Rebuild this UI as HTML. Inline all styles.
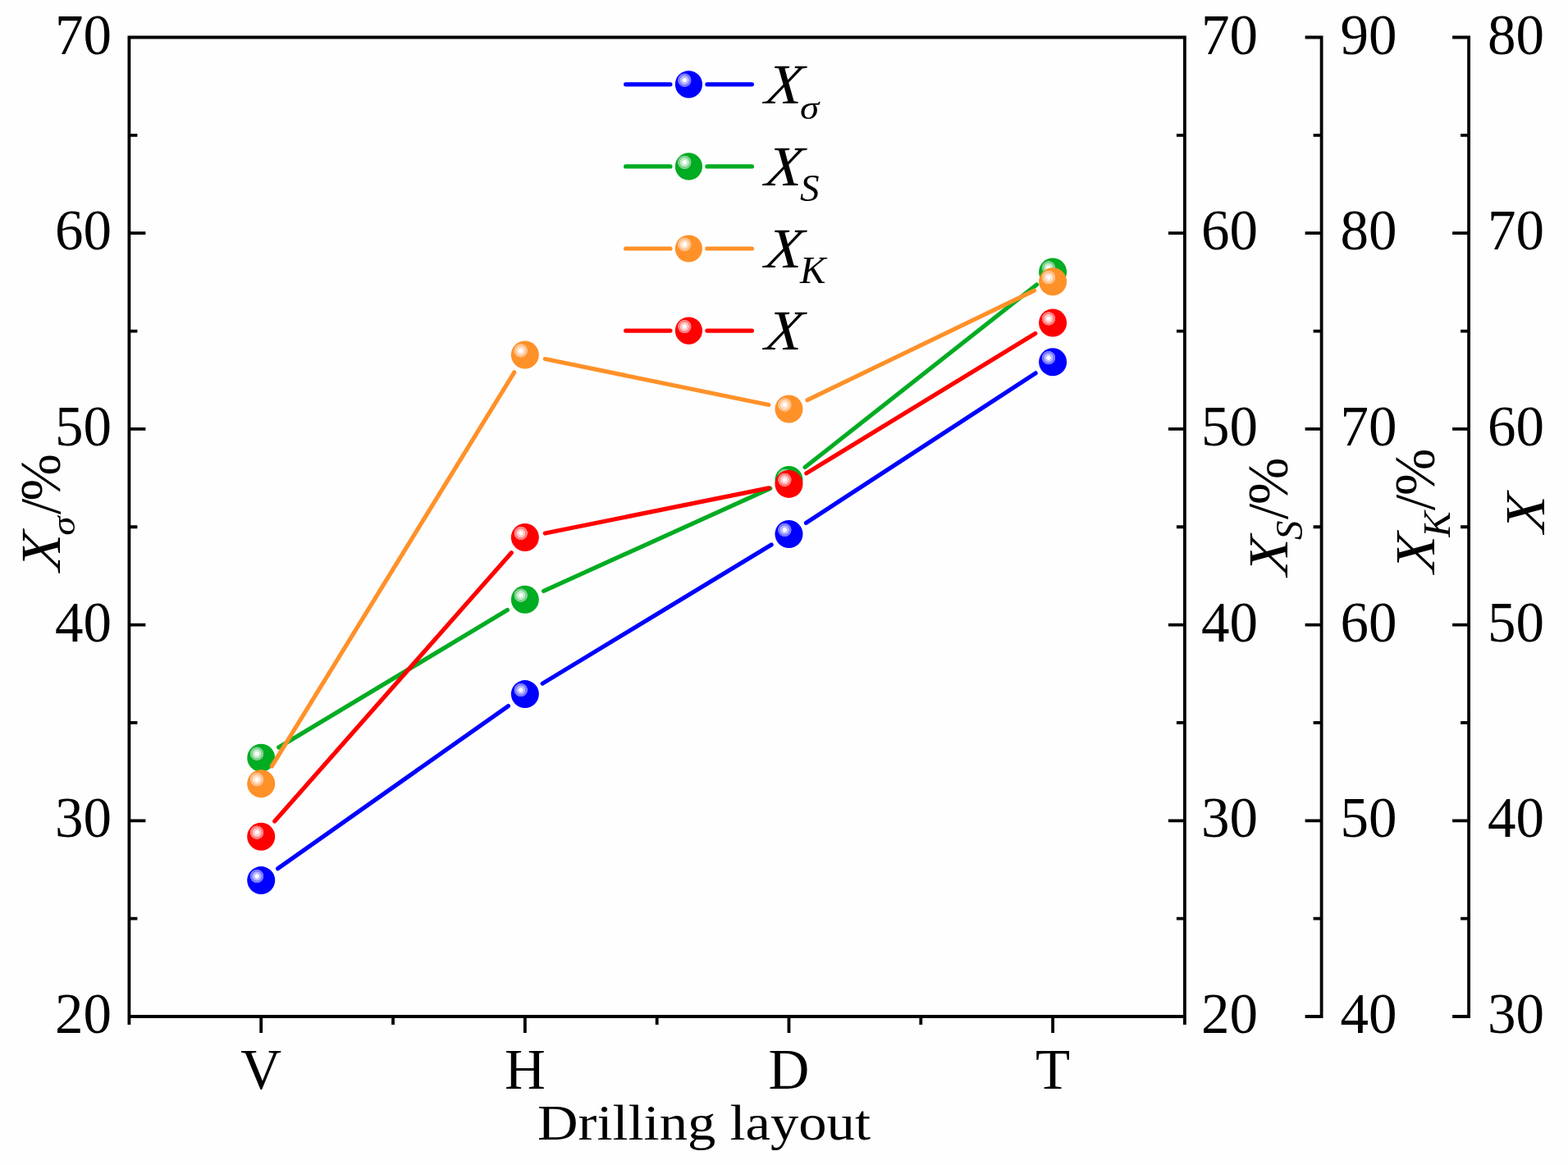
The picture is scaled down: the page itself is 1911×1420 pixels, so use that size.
<!DOCTYPE html>
<html lang="en"><head><meta charset="utf-8"><title>Drilling layout chart</title>
<style>html,body{margin:0;padding:0;background:#fefefe;}svg{display:block;}text{font-family:"Liberation Serif","Times New Roman",serif;fill:#000;}</style>
</head><body>
<svg width="1911" height="1420" viewBox="0 0 1911 1420">
<defs>
<radialGradient id="hl_blue" cx="0.5" cy="0.5" r="0.5"><stop offset="0" stop-color="#ffffff"/><stop offset="0.28" stop-color="#ffffff"/><stop offset="0.34" stop-color="#b8b8ff"/><stop offset="0.60" stop-color="#b8b8ff"/><stop offset="0.66" stop-color="#7a7aff"/><stop offset="0.92" stop-color="#7a7aff"/><stop offset="1" stop-color="#0000FF"/></radialGradient>
<radialGradient id="hl_green" cx="0.5" cy="0.5" r="0.5"><stop offset="0" stop-color="#ffffff"/><stop offset="0.28" stop-color="#ffffff"/><stop offset="0.34" stop-color="#c4ecc9"/><stop offset="0.60" stop-color="#c4ecc9"/><stop offset="0.66" stop-color="#80d090"/><stop offset="0.92" stop-color="#80d090"/><stop offset="1" stop-color="#00AC22"/></radialGradient>
<radialGradient id="hl_orange" cx="0.5" cy="0.5" r="0.5"><stop offset="0" stop-color="#ffffff"/><stop offset="0.28" stop-color="#ffffff"/><stop offset="0.34" stop-color="#ffe0c6"/><stop offset="0.60" stop-color="#ffe0c6"/><stop offset="0.66" stop-color="#ffc08c"/><stop offset="0.92" stop-color="#ffc08c"/><stop offset="1" stop-color="#FF9129"/></radialGradient>
<radialGradient id="hl_red" cx="0.5" cy="0.5" r="0.5"><stop offset="0" stop-color="#ffffff"/><stop offset="0.28" stop-color="#ffffff"/><stop offset="0.34" stop-color="#ffc4c4"/><stop offset="0.60" stop-color="#ffc4c4"/><stop offset="0.66" stop-color="#ff8080"/><stop offset="0.92" stop-color="#ff8080"/><stop offset="1" stop-color="#FF0000"/></radialGradient>
</defs>
<rect x="0" y="0" width="1911" height="1420" fill="#fefefe"/>
<path d="M155.50 45.50H1445.80M155.50 1239.00H1445.80M157.40 43.60V1249.00M1443.90 43.60V1249.00M157.40 1239.00h20M1443.90 1239.00h-20M157.40 1119.65h10M1443.90 1119.65h-10M157.40 1000.30h20M1443.90 1000.30h-20M157.40 880.95h10M1443.90 880.95h-10M157.40 761.60h20M1443.90 761.60h-20M157.40 642.25h10M1443.90 642.25h-10M157.40 522.90h20M1443.90 522.90h-20M157.40 403.55h10M1443.90 403.55h-10M157.40 284.20h20M1443.90 284.20h-20M157.40 164.85h10M1443.90 164.85h-10M157.40 45.50h20M1443.90 45.50h-20M318.21 1239.00v20M639.84 1239.00v20M961.46 1239.00v20M1283.09 1239.00v20M479.02 1239.00v10M800.65 1239.00v10M1122.28 1239.00v10M1610.60 43.60V1240.90M1612.50 45.50h-21.9M1612.50 164.85h-11.9M1612.50 284.20h-21.9M1612.50 403.55h-11.9M1612.50 522.90h-21.9M1612.50 642.25h-11.9M1612.50 761.60h-21.9M1612.50 880.95h-11.9M1612.50 1000.30h-21.9M1612.50 1119.65h-11.9M1612.50 1239.00h-21.9M1790.10 43.60V1240.90M1792.00 45.50h-21.9M1792.00 164.85h-11.9M1792.00 284.20h-21.9M1792.00 403.55h-11.9M1792.00 522.90h-21.9M1792.00 642.25h-11.9M1792.00 761.60h-21.9M1792.00 880.95h-11.9M1792.00 1000.30h-21.9M1792.00 1119.65h-11.9M1792.00 1239.00h-21.9" stroke="#000" stroke-width="3.8" fill="none" stroke-linecap="butt"/>
<text x="136.0" y="1259.0" font-size="69" text-anchor="end">20</text>
<text x="1464.0" y="1259.0" font-size="69" text-anchor="start">20</text>
<text x="136.0" y="1020.3" font-size="69" text-anchor="end">30</text>
<text x="1464.0" y="1020.3" font-size="69" text-anchor="start">30</text>
<text x="136.0" y="781.6" font-size="69" text-anchor="end">40</text>
<text x="1464.0" y="781.6" font-size="69" text-anchor="start">40</text>
<text x="136.0" y="542.9" font-size="69" text-anchor="end">50</text>
<text x="1464.0" y="542.9" font-size="69" text-anchor="start">50</text>
<text x="136.0" y="304.2" font-size="69" text-anchor="end">60</text>
<text x="1464.0" y="304.2" font-size="69" text-anchor="start">60</text>
<text x="136.0" y="65.5" font-size="69" text-anchor="end">70</text>
<text x="1464.0" y="65.5" font-size="69" text-anchor="start">70</text>
<text x="1633.6" y="1259.0" font-size="69" text-anchor="start">40</text>
<text x="1633.6" y="1020.3" font-size="69" text-anchor="start">50</text>
<text x="1633.6" y="781.6" font-size="69" text-anchor="start">60</text>
<text x="1633.6" y="542.9" font-size="69" text-anchor="start">70</text>
<text x="1633.6" y="304.2" font-size="69" text-anchor="start">80</text>
<text x="1633.6" y="65.5" font-size="69" text-anchor="start">90</text>
<text x="1813.1" y="1259.0" font-size="69" text-anchor="start">30</text>
<text x="1813.1" y="1020.3" font-size="69" text-anchor="start">40</text>
<text x="1813.1" y="781.6" font-size="69" text-anchor="start">50</text>
<text x="1813.1" y="542.9" font-size="69" text-anchor="start">60</text>
<text x="1813.1" y="304.2" font-size="69" text-anchor="start">70</text>
<text x="1813.1" y="65.5" font-size="69" text-anchor="start">80</text>
<text x="318.2" y="1327.0" font-size="69" text-anchor="middle">V</text>
<text x="639.8" y="1327.0" font-size="69" text-anchor="middle">H</text>
<text x="961.5" y="1327.0" font-size="69" text-anchor="middle">D</text>
<text x="1283.1" y="1327.0" font-size="69" text-anchor="middle">T</text>
<text x="655" y="1388.5" font-size="62" textLength="406" lengthAdjust="spacingAndGlyphs">Drilling layout</text>
<g transform="translate(72.7,696.5) rotate(-90)"><text transform="skewX(-6) scale(1.08,1)" font-size="69" font-style="italic">X</text><text transform="translate(43.8,18.5) scale(1,0.84)" font-size="47" font-style="italic">&#963;</text><text x="69.5" y="0" font-size="69">/</text><text x="86.0" y="0" font-size="69">%</text></g>
<g transform="translate(1568.9,701.9) rotate(-90)"><text transform="skewX(-6) scale(1.08,1)" font-size="69" font-style="italic">X</text><text x="43.8" y="18.5" font-size="47" font-style="italic">S</text><text x="69.0" y="0" font-size="69">/</text><text x="87.0" y="0" font-size="69">%</text></g>
<g transform="translate(1748.2,698.6) rotate(-90)"><text transform="skewX(-6) scale(1.08,1)" font-size="69" font-style="italic">X</text><text x="43.8" y="18.5" font-size="47" font-style="italic">K</text><text x="76.5" y="0" font-size="69">/</text><text x="94.6" y="0" font-size="69">%</text></g>
<g transform="translate(1881.8,649.8) rotate(-90)"><text transform="skewX(-6) scale(1.08,1)" font-size="69" font-style="italic">X</text></g>
<path d="M338.64 1058.68L619.41 860.52M661.21 833.13L940.09 663.97M982.40 637.34L1262.15 454.86" stroke="#0000FF" stroke-width="5.2" stroke-linecap="round" fill="none"/>
<circle cx="318.21" cy="1073.10" r="17.0" fill="#0000FF"/><circle cx="313.11" cy="1068.00" r="8.6" fill="url(#hl_blue)"/>
<circle cx="639.84" cy="846.10" r="17.0" fill="#0000FF"/><circle cx="634.74" cy="841.00" r="8.6" fill="url(#hl_blue)"/>
<circle cx="961.46" cy="651.00" r="17.0" fill="#0000FF"/><circle cx="956.36" cy="645.90" r="8.6" fill="url(#hl_blue)"/>
<circle cx="1283.09" cy="441.20" r="17.0" fill="#0000FF"/><circle cx="1277.99" cy="436.10" r="8.6" fill="url(#hl_blue)"/>
<path d="M339.65 910.93L618.40 743.57M662.61 720.38L938.69 595.32M981.10 569.52L1263.45 346.98" stroke="#00AC22" stroke-width="5.2" stroke-linecap="round" fill="none"/>
<circle cx="318.21" cy="923.80" r="17.0" fill="#00AC22"/><circle cx="313.11" cy="918.70" r="8.6" fill="url(#hl_green)"/>
<circle cx="639.84" cy="730.70" r="17.0" fill="#00AC22"/><circle cx="634.74" cy="725.60" r="8.6" fill="url(#hl_green)"/>
<circle cx="961.46" cy="585.00" r="17.0" fill="#00AC22"/><circle cx="956.36" cy="579.90" r="8.6" fill="url(#hl_green)"/>
<circle cx="1283.09" cy="331.50" r="17.0" fill="#00AC22"/><circle cx="1277.99" cy="326.40" r="8.6" fill="url(#hl_green)"/>
<path d="M331.31 933.91L626.74 453.79M664.33 437.53L936.97 493.47M983.98 487.63L1260.57 354.07" stroke="#FF9129" stroke-width="5.2" stroke-linecap="round" fill="none"/>
<circle cx="318.21" cy="955.20" r="17.0" fill="#FF9129"/><circle cx="313.11" cy="950.10" r="8.6" fill="url(#hl_orange)"/>
<circle cx="639.84" cy="432.50" r="17.0" fill="#FF9129"/><circle cx="634.74" cy="427.40" r="8.6" fill="url(#hl_orange)"/>
<circle cx="961.46" cy="498.50" r="17.0" fill="#FF9129"/><circle cx="956.36" cy="493.40" r="8.6" fill="url(#hl_orange)"/>
<circle cx="1283.09" cy="343.20" r="17.0" fill="#FF9129"/><circle cx="1277.99" cy="338.10" r="8.6" fill="url(#hl_orange)"/>
<path d="M334.75 1001.05L623.30 673.75M664.34 650.04L936.96 594.86M982.80 576.87L1261.75 406.53" stroke="#FF0000" stroke-width="5.2" stroke-linecap="round" fill="none"/>
<circle cx="318.21" cy="1019.80" r="17.0" fill="#FF0000"/><circle cx="313.11" cy="1014.70" r="8.6" fill="url(#hl_red)"/>
<circle cx="639.84" cy="655.00" r="17.0" fill="#FF0000"/><circle cx="634.74" cy="649.90" r="8.6" fill="url(#hl_red)"/>
<circle cx="961.46" cy="589.90" r="17.0" fill="#FF0000"/><circle cx="956.36" cy="584.80" r="8.6" fill="url(#hl_red)"/>
<circle cx="1283.09" cy="393.50" r="17.0" fill="#FF0000"/><circle cx="1277.99" cy="388.40" r="8.6" fill="url(#hl_red)"/>
<path d="M762.60 102.80H816.90M861.90 102.80H916.40" stroke="#0000FF" stroke-width="5.2" stroke-linecap="round" fill="none"/>
<circle cx="839.40" cy="102.80" r="16.6" fill="#0000FF"/><circle cx="834.30" cy="97.70" r="8.6" fill="url(#hl_blue)"/>
<g transform="translate(931.2,126.1)"><text transform="skewX(-6) scale(1.08,1)" font-size="69" font-style="italic">X</text><text transform="translate(43.8,18.5) scale(1,0.84)" font-size="47" font-style="italic">&#963;</text></g>
<path d="M762.60 202.90H816.90M861.90 202.90H916.40" stroke="#00AC22" stroke-width="5.2" stroke-linecap="round" fill="none"/>
<circle cx="839.40" cy="202.90" r="16.6" fill="#00AC22"/><circle cx="834.30" cy="197.80" r="8.6" fill="url(#hl_green)"/>
<g transform="translate(931.2,226.1)"><text transform="skewX(-6) scale(1.08,1)" font-size="69" font-style="italic">X</text><text x="43.8" y="18.5" font-size="47" font-style="italic">S</text></g>
<path d="M762.60 303.00H816.90M861.90 303.00H916.40" stroke="#FF9129" stroke-width="5.2" stroke-linecap="round" fill="none"/>
<circle cx="839.40" cy="303.00" r="16.6" fill="#FF9129"/><circle cx="834.30" cy="297.90" r="8.6" fill="url(#hl_orange)"/>
<g transform="translate(931.2,326.1)"><text transform="skewX(-6) scale(1.08,1)" font-size="69" font-style="italic">X</text><text x="43.8" y="18.5" font-size="47" font-style="italic">K</text></g>
<path d="M762.60 403.10H816.90M861.90 403.10H916.40" stroke="#FF0000" stroke-width="5.2" stroke-linecap="round" fill="none"/>
<circle cx="839.40" cy="403.10" r="16.6" fill="#FF0000"/><circle cx="834.30" cy="398.00" r="8.6" fill="url(#hl_red)"/>
<g transform="translate(931.2,426.1)"><text transform="skewX(-6) scale(1.08,1)" font-size="69" font-style="italic">X</text></g>
</svg>
</body></html>
